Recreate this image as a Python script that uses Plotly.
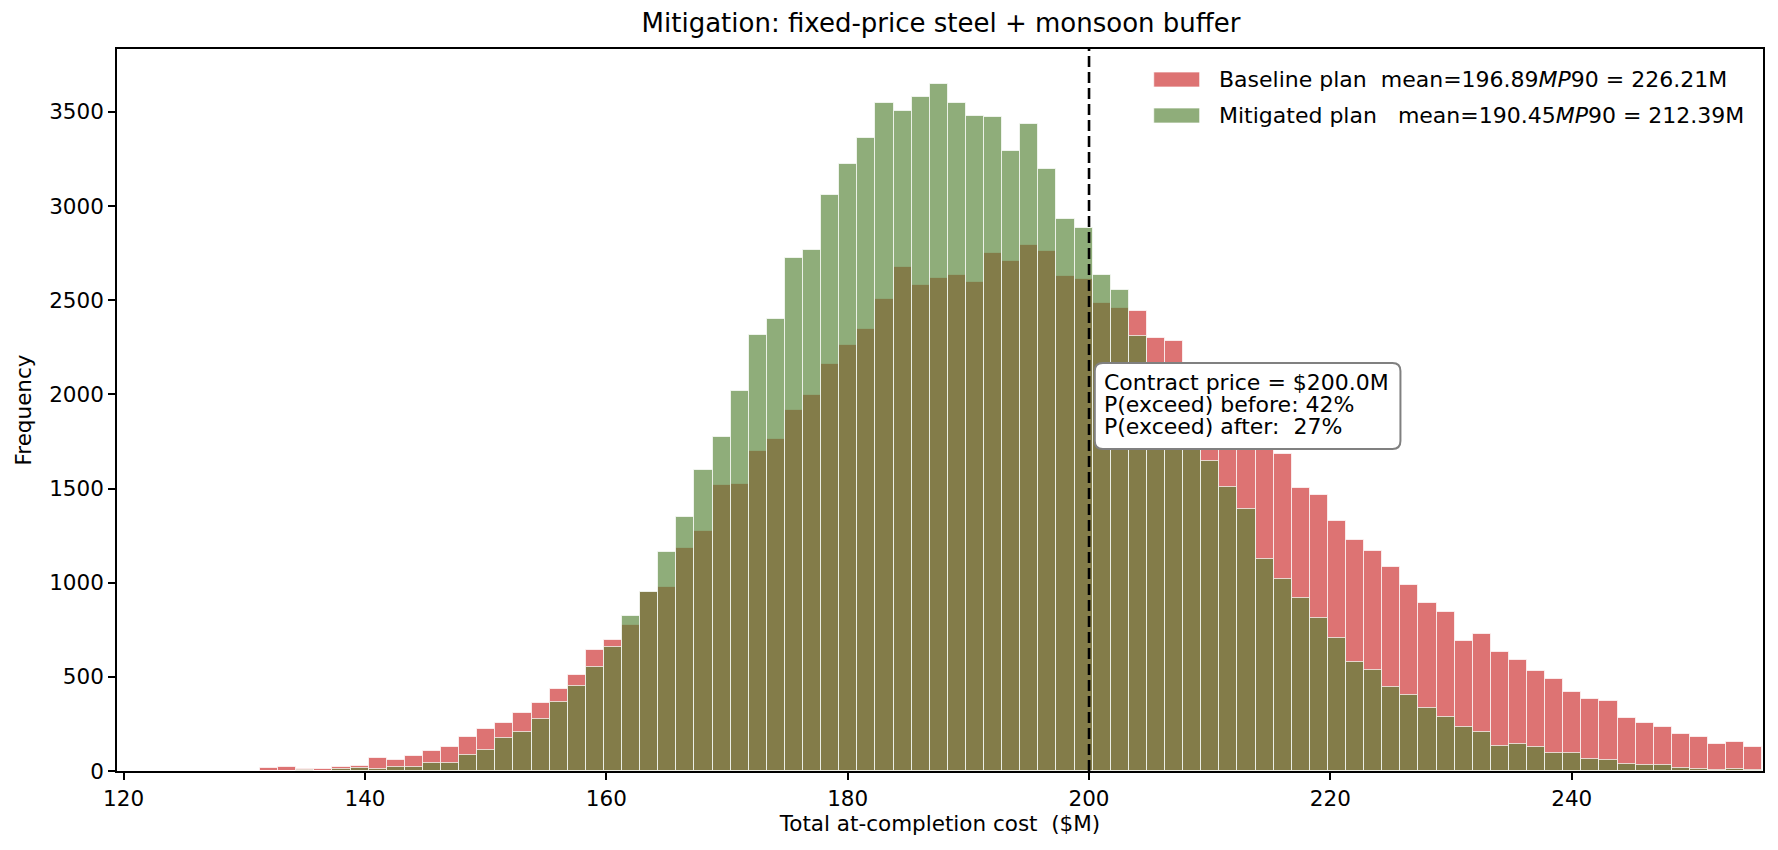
import plotly.graph_objects as go

# ---------------- data ----------------
bin_width = 1.5
bin_centers = [
    132.05, 133.55, 135.05, 136.55, 138.05, 139.55, 141.05, 142.55, 144.05, 145.55,
    147.05, 148.55, 150.05, 151.55, 153.05, 154.55, 156.05, 157.55, 159.05, 160.55,
    162.05, 163.55, 165.05, 166.55, 168.05, 169.55, 171.05, 172.55, 174.05, 175.55,
    177.05, 178.55, 180.05, 181.55, 183.05, 184.55, 186.05, 187.55, 189.05, 190.55,
    192.05, 193.55, 195.05, 196.55, 198.05, 199.55, 201.05, 202.55, 204.05, 205.55,
    207.05, 208.55, 210.05, 211.55, 213.05, 214.55, 216.05, 217.55, 219.05, 220.55,
    222.05, 223.55, 225.05, 226.55, 228.05, 229.55, 231.05, 232.55, 234.05, 235.55,
    237.05, 238.55, 240.05, 241.55, 243.05, 244.55, 246.05, 247.55, 249.05, 250.55,
    252.05, 253.55, 255.05,
]
baseline_counts = [
    15, 19, 11, 9, 22, 24, 67, 58, 82, 106,
    128, 181, 224, 256, 309, 362, 437, 512, 645, 698,
    777, 951, 975, 1183, 1277, 1521, 1526, 1697, 1762, 1919,
    1999, 2161, 2260, 2349, 2506, 2675, 2581, 2619, 2634, 2597,
    2750, 2706, 2791, 2759, 2631, 2614, 2486, 2460, 2445, 2301,
    2284, 2110, 1990, 1890, 1800, 1720, 1685, 1504, 1465, 1328,
    1228, 1170, 1085, 988, 893, 845, 690, 726, 631, 588,
    529, 486, 422, 380, 374, 283, 257, 233, 198, 180,
    143, 155, 128,
]
mitigated_counts = [
    0, 0, 3, 2, 11, 15, 9, 22, 22, 43,
    43, 87, 113, 174, 205, 275, 364, 449, 550, 659,
    821, 953, 1164, 1347, 1598, 1774, 2018, 2317, 2402, 2725,
    2769, 3061, 3225, 3363, 3546, 3503, 3579, 3648, 3546, 3478,
    3472, 3295, 3438, 3198, 2933, 2885, 2636, 2556, 2308, 2140,
    1975, 1810, 1644, 1506, 1390, 1127, 1019, 917, 811, 705,
    580, 538, 448, 406, 335, 287, 234, 209, 135, 141,
    127, 93, 93, 62, 57, 39, 32, 32, 18, 12,
    7, 11, 7,
]
contract_price = 200.0
baseline_label = "Baseline plan\u00a0\u00a0mean=196.89<i>MP</i>90 = 226.21M"
mitigated_label = "Mitigated plan\u00a0\u00a0\u00a0mean=190.45<i>MP</i>90 = 212.39M"
note_lines = [
    "Contract price = $200.0M",
    "P(exceed) before: 42%",
    "P(exceed) after:\u00a0\u00a027%",
]
x_ticks = [120, 140, 160, 180, 200, 220, 240]
y_ticks = [0, 500, 1000, 1500, 2000, 2500, 3000, 3500]

# ---------------- style ----------------
RED = "rgba(203,40,40,0.65)"
GREEN = "rgba(83,129,50,0.65)"
EDGE = "rgba(255,255,255,0.7)"
FONT = "DejaVu Sans"

# page has an 8px body margin: figure is drawn offset by (8, 8)
OFF = 8
W_FIG, H_FIG = 1762, 834
# plot area in page pixels
L, R, T, B = 117, 1765, 49, 771
PW, PH = R - L, B - T


def px_x(p):
    return (p - L) / PW


def px_y(p):
    return (B - p) / PH


fig = go.Figure()
fig.add_trace(go.Bar(
    x=bin_centers, y=baseline_counts, width=bin_width,
    marker=dict(color=RED, line=dict(color=EDGE, width=1)),
    name="Baseline", hoverinfo="skip",
))
fig.add_trace(go.Bar(
    x=bin_centers, y=mitigated_counts, width=bin_width,
    marker=dict(color=GREEN, line=dict(color=EDGE, width=1)),
    name="Mitigated", hoverinfo="skip",
))

shapes = []
shapes.append(dict(type="line", xref="x", yref="paper", x0=contract_price, x1=contract_price,
                   y0=0, y1=1, line=dict(color="black", width=2.6, dash="11px,5px"), layer="above"))

for (y0p, y1p, col) in [(72, 87, RED), (108, 123, GREEN)]:
    shapes.append(dict(type="rect", xref="paper", yref="paper",
                       x0=px_x(1155), x1=px_x(1201), y0=px_y(y1p), y1=px_y(y0p),
                       fillcolor=col, line=dict(color=EDGE, width=1), layer="above"))

bx0, bx1, by0, by1, rad = 1096, 1402, 363, 449, 8
x0, x1 = px_x(bx0), px_x(bx1)
yt, yb = px_y(by0), px_y(by1)
rx, ry = rad / PW, rad / PH
path = (f"M {x0+rx},{yt} L {x1-rx},{yt} Q {x1},{yt} {x1},{yt-ry} "
        f"L {x1},{yb+ry} Q {x1},{yb} {x1-rx},{yb} L {x0+rx},{yb} "
        f"Q {x0},{yb} {x0},{yb+ry} L {x0},{yt-ry} Q {x0},{yt} {x0+rx},{yt} Z")
shapes.append(dict(type="path", xref="paper", yref="paper", path=path,
                   fillcolor="white", line=dict(color="rgb(128,128,128)", width=2), layer="above"))

annotations = []
for txt, yc in [(baseline_label, 79), (mitigated_label, 115)]:
    annotations.append(dict(xref="paper", yref="paper", x=px_x(1218), y=px_y(yc),
                            xanchor="left", yanchor="middle", text=txt, showarrow=False,
                            font=dict(family=FONT, size=22, color="black")))
for txt, yc in zip(note_lines, [382, 404, 426]):
    annotations.append(dict(xref="paper", yref="paper", x=px_x(1103), y=px_y(yc),
                            xanchor="left", yanchor="middle", text=txt, showarrow=False,
                            font=dict(family=FONT, size=22, color="black")))

axis_common = dict(
    showgrid=False, zeroline=False, showline=True, linecolor="black", linewidth=1.7,
    mirror=True, ticks="outside", ticklen=7, tickwidth=1.7, tickcolor="black",
    tickfont=dict(family=FONT, size=21.5, color="black"),
)

fig.update_layout(
    width=W_FIG, height=H_FIG,
    margin=dict(l=L - OFF, r=W_FIG - (R - OFF), t=T - OFF, b=H_FIG - (B - OFF)),
    paper_bgcolor="white", plot_bgcolor="white",
    barmode="overlay", bargap=0, showlegend=False,
    title=dict(text="Mitigation: fixed-price steel + monsoon buffer",
               font=dict(family=FONT, size=26, color="black"),
               x=((L + R) / 2 - OFF) / W_FIG, xanchor="center",
               y=1 - 6 / H_FIG, yanchor="top", xref="container", yref="container",
               pad=dict(t=0, b=0, l=0, r=0)),
    xaxis=dict(range=[119.45, 255.85], tickvals=x_ticks,
               title=dict(text="Total at-completion cost\u00a0\u00a0($M)",
                          font=dict(family=FONT, size=21.5, color="black"), standoff=4),
               **axis_common),
    yaxis=dict(range=[0, 3834], tickvals=y_ticks,
               title=dict(text="Frequency", font=dict(family=FONT, size=21.5, color="black"),
                          standoff=12),
               **axis_common),
    shapes=shapes, annotations=annotations,
)

fig.write_html("out.html")
